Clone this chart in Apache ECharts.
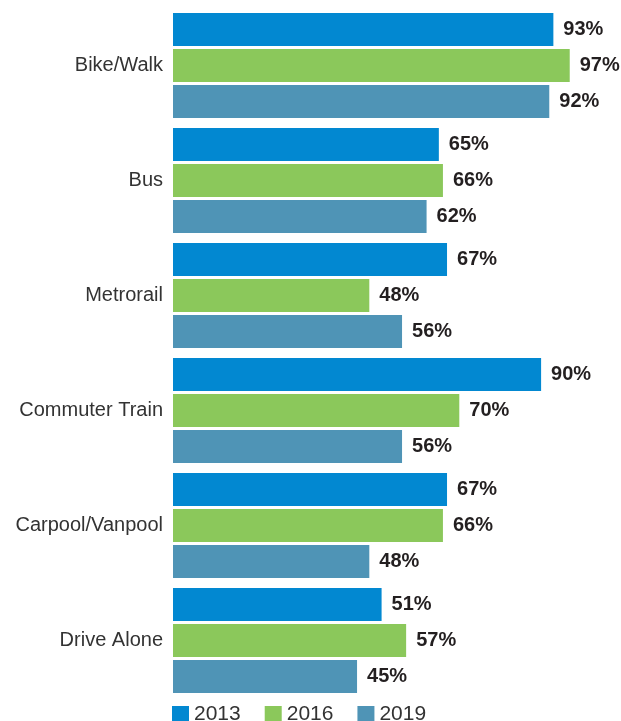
<!DOCTYPE html>
<html>
<head>
<meta charset="utf-8">
<script src="https://cdn.jsdelivr.net/npm/echarts@6/dist/echarts.min.js"></script>
<style>
  html, body { margin: 0; padding: 0; background: #ffffff; }
  #chart { width: 621px; height: 721px; }
</style>
</head>
<body>
<div id="chart"></div>
<script>
// Commute modes, listed top to bottom
const modes = ['Bike/Walk', 'Bus', 'Metrorail', 'Commuter Train', 'Carpool/Vanpool', 'Drive Alone'];
const years = ['2013', '2016', '2019'];
const values2013 = [93, 65, 67, 90, 67, 51];
const values2016 = [97, 66, 48, 70, 66, 57];
const values2019 = [92, 62, 56, 56, 48, 45];

const colors = ['#0288d1', '#8bc85b', '#4f94b6'];
const font = '"Liberation Sans", Arial, sans-serif';

function makeSeries(name, data, color) {
  return {
    name: name,
    type: 'bar',
    data: data,
    barWidth: 33,
    barGap: '9%',
    itemStyle: { color: color },
    label: {
      show: true,
      position: 'right',
      distance: 10,
      formatter: '{c}%',
      color: '#231f20',
      fontFamily: font,
      fontWeight: 'bold',
      fontSize: 20
    }
  };
}

const chart = echarts.init(document.getElementById('chart'));
chart.setOption({
  animation: false,
  grid: { left: 173, top: 8, width: 409, height: 690, containLabel: false },
  legend: {
    data: years,
    left: 172,
    top: 704,
    padding: 0,
    itemWidth: 17,
    itemHeight: 17,
    itemGap: 24,
    icon: 'rect',
    textStyle: { fontFamily: font, fontSize: 21, color: '#333333' }
  },
  xAxis: {
    type: 'value',
    min: 0,
    max: 100,
    show: false
  },
  yAxis: {
    type: 'category',
    data: modes,
    inverse: true,
    axisLine: { show: false },
    axisTick: { show: false },
    axisLabel: {
      margin: 10,
      color: '#333333',
      fontFamily: font,
      fontSize: 20
    }
  },
  series: [
    makeSeries(years[0], values2013, colors[0]),
    makeSeries(years[1], values2016, colors[1]),
    makeSeries(years[2], values2019, colors[2])
  ]
});
</script>
</body>
</html>
